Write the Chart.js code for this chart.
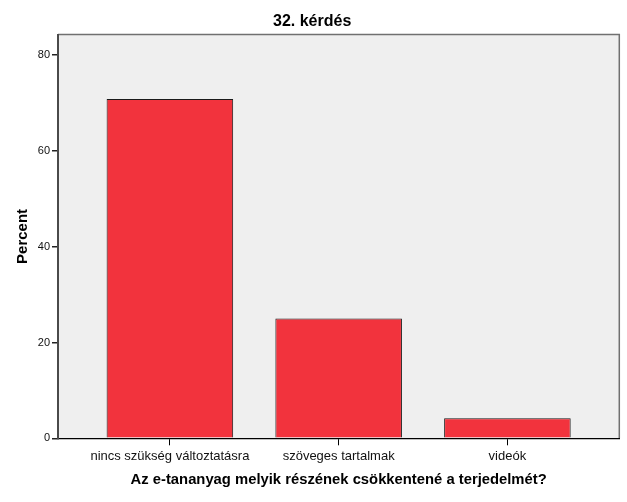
<!DOCTYPE html>
<html>
<head>
<meta charset="utf-8">
<script src="https://cdn.jsdelivr.net/npm/chart.js@4/dist/chart.umd.min.js"></script>
<style>
  html, body { margin: 0; padding: 0; background: #fff; }
  #wrap { width: 627px; height: 502px; }
</style>
</head>
<body>
<div id="wrap"><canvas id="chart" width="627" height="502"></canvas></div>
<script>
// data
const categories = ['nincs szükség változtatásra', 'szöveges tartalmak', 'videók'];
const percentValues = [70.83, 25.0, 4.17];
const yTickValues = [0, 20, 40, 60, 80];

const chartTitle = '32. kérdés';
const xTitle = 'Az e-tananyag melyik részének csökkentené a terjedelmét?';
const yTitle = 'Percent';

const FONT = '"Liberation Sans", Arial, sans-serif';

// gray plot background with thin frame
const plotBackground = {
  id: 'plotBackground',
  beforeDraw(chart) {
    const { ctx, chartArea: a } = chart;
    ctx.save();
    ctx.fillStyle = '#efefef';
    ctx.fillRect(a.left, a.top, a.right - a.left, a.bottom - a.top);
    ctx.strokeStyle = '#707070';
    ctx.lineWidth = 1.5;
    ctx.beginPath();
    ctx.moveTo(a.left, a.top);
    ctx.lineTo(a.right, a.top);
    ctx.lineTo(a.right, a.bottom);
    ctx.stroke();
    ctx.restore();
  }
};

new Chart(document.getElementById('chart'), {
  type: 'bar',
  data: {
    datasets: [{
      data: percentValues.map((v, i) => ({ x: i, y: v })),
      backgroundColor: '#f2333d',
      borderColor: '#1a1a1a',
      borderWidth: 1,
      barPercentage: 0.75,
      categoryPercentage: 1
    }]
  },
  options: {
    responsive: false,
    animation: false,
    devicePixelRatio: 1,
    layout: { padding: { left: 5, right: 7.7, top: 0, bottom: 0 } },
    plugins: {
      legend: { display: false },
      tooltip: { enabled: false },
      title: {
        display: true,
        text: chartTitle,
        color: '#000',
        font: { family: FONT, size: 16, weight: 'bold' },
        padding: { top: 12.4, bottom: 2.9 }
      }
    },
    scales: {
      x: {
        type: 'linear',
        min: -0.663,
        max: 2.663,
        offset: false,
        afterBuildTicks: (s) => { s.ticks = categories.map((_, i) => ({ value: i })); },
        afterFit: (s) => { s.height = 63.7; },
        grid: { offset: false, drawOnChartArea: false, drawTicks: true, tickLength: 7, color: '#000', lineWidth: 1 },
        border: { display: true, color: '#000', width: 1.2 },
        ticks: {
          autoSkip: false,
          maxRotation: 0,
          padding: 3,
          color: '#111',
          font: { family: FONT, size: 13 },
          callback: (v) => categories[v] ?? ''
        },
        title: {
          display: true,
          text: xTitle,
          color: '#000',
          font: { family: FONT, size: 14.8, weight: 'bold' },
          padding: { top: 0, bottom: 13 }
        }
      },
      y: {
        min: 0,
        max: 84.3,
        afterBuildTicks: (s) => { s.ticks = yTickValues.map(v => ({ value: v })); },
        afterFit: (s) => { s.width = 53; },
        grid: { drawOnChartArea: false, drawTicks: true, tickLength: 6, color: '#222', lineWidth: 1.5 },
        border: { display: true, color: '#4a4a4a', width: 2 },
        ticks: {
          padding: 2,
          color: '#111',
          font: { family: FONT, size: 11 }
        },
        title: {
          display: true,
          text: yTitle,
          color: '#000',
          font: { family: FONT, size: 15, weight: 'bold' },
          padding: { top: 8.5, bottom: 0 }
        }
      }
    }
  },
  plugins: [plotBackground]
});
</script>
</body>
</html>
